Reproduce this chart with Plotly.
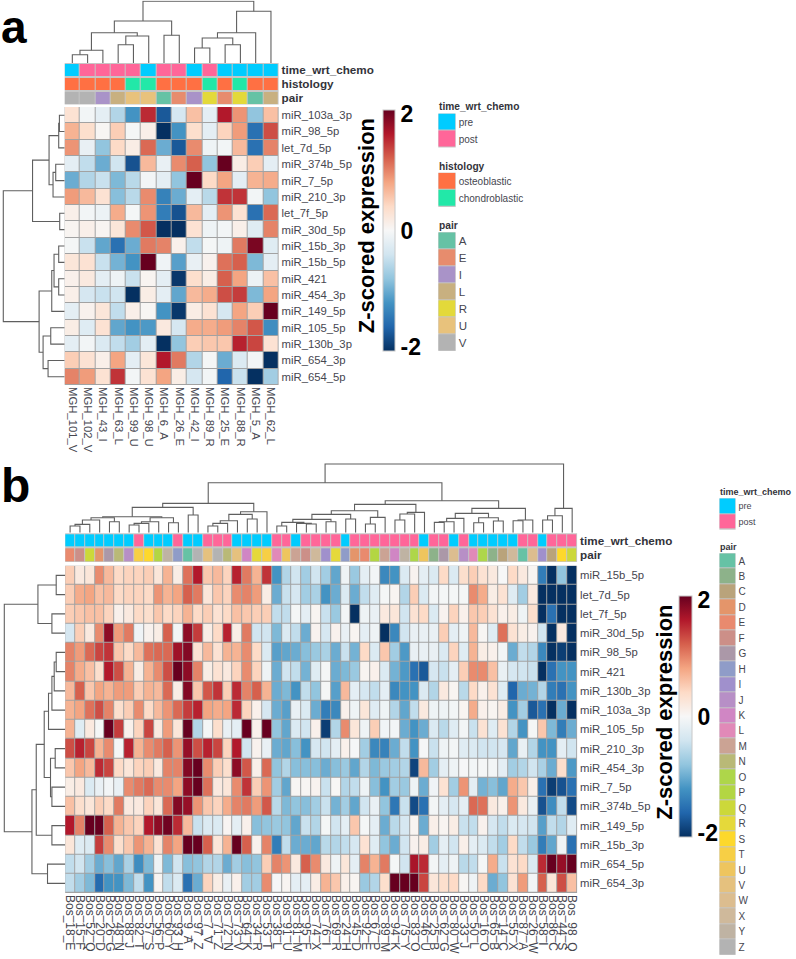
import plotly.graph_objects as go

# ---------- panel a data ----------
A_ROWS = ["miR_103a_3p","miR_98_5p","let_7d_5p","miR_374b_5p","miR_7_5p","miR_210_3p","let_7f_5p","miR_30d_5p",
          "miR_15b_3p","miR_15b_5p","miR_421","miR_454_3p","miR_149_5p","miR_105_5p","miR_130b_3p","miR_654_3p","miR_654_5p"]
A_COLS = ["MGH_101_V","MGH_102_V","MGH_43_I","MGH_63_L","MGH_99_U","MGH_98_U","MGH_6_A","MGH_26_E","MGH_42_I","MGH_89_R","MGH_25_E","MGH_88_R","MGH_5_A","MGH_62_L"]
A_Z = [
 [0.3,-0.05,-0.2,-0.6,-1.2,1.5,-1.7,-0.35,0.6,-0.2,1.6,0.9,-0.8,0.6],
 [0.7,0.35,0.03,0.5,-0.03,0.12,-2,-1.2,0.35,-0.2,0.45,0.85,-1.5,1.3],
 [0.9,-0.15,-0.8,0.4,0.15,1.15,-1.0,-1.7,0.95,-0.1,-0.05,0.65,-1.5,1.0],
 [-0.2,-0.5,-1.0,-0.4,-1.75,0.65,-0.15,0.95,1.2,-0.8,2.0,0.15,0.5,-0.2],
 [-1.0,-0.6,-0.45,-0.9,-0.55,-0.05,-0.2,-0.8,2,0.4,0.8,-0.2,0.7,0.75],
 [0.85,0.65,0.3,-0.85,-0.55,0.95,-1.35,-1.0,-0.2,-0.55,1.45,1.45,-0.05,-0.8],
 [0.12,-0.05,-0.12,0.75,-0.03,0.9,-1.4,-1.75,0.65,-0.2,0.9,0.3,-1.5,1.15],
 [0.05,0.12,0.05,0.25,0.95,1.25,-2,-2,0.3,-0.1,-0.05,0.12,-0.25,1.0],
 [-0.03,-0.45,-1.05,-1.5,-1.0,1.05,1.0,0.1,-0.5,-0.03,-0.1,1.05,1.9,-0.25],
 [0.25,0.3,-0.45,-0.95,-1.2,2,-0.08,-1.1,-0.15,0.08,1.1,1.2,-0.9,-0.2],
 [0.1,0.2,-0.2,-0.1,-0.45,0.05,-0.2,-1.95,0.35,0.15,1.2,0.8,-0.12,0.6],
 [0.12,-0.35,-0.45,-0.4,-2,0.15,-0.2,-1.05,0.65,0.75,1.3,1.4,-0.9,0.8],
 [-0.2,0.08,0.25,-0.5,0.12,0.03,-1.2,-1.95,0.15,0.3,-0.35,0.8,0.5,2],
 [0.15,-0.25,0.3,-1.05,-1.2,-1.15,0.2,-0.35,0.75,0.75,0.85,1.0,1.25,-1.25],
 [-0.2,-0.05,-0.3,-0.5,-0.7,-0.2,-2,-0.8,0.5,0.55,0.55,1.55,1.35,0.3],
 [0.5,0.3,0.12,0.8,-0.2,0.25,1.6,1.05,-0.6,-0.03,-1.0,-0.3,-0.05,-2],
 [1.0,0.85,0.3,1.45,-0.05,0.3,0.8,0.15,-0.35,-0.05,-1.6,-0.45,-2,-0.7],
]
A_TIME = ["pre","post","post","post","post","pre","post","post","pre","post","pre","pre","pre","pre"]
A_HIST = ["osteoblastic","osteoblastic","osteoblastic","osteoblastic","chondroblastic","chondroblastic","osteoblastic","osteoblastic","osteoblastic","chondroblastic","osteoblastic","chondroblastic","osteoblastic","osteoblastic"]
A_PAIR = ["V","V","I","L","U","U","A","E","I","R","E","R","A","L"]
A_PAIR_LEVELS = ["A","E","I","L","R","U","V"]
A_COL_TREE = (61.7,(42,(30.3,(12.7,(8.3,0,1),2),(27,(18.3,3,4),5)),(27.7,6,7)),(51.7,(30.3,(25,(15,8,9),(18.3,10,11)),12),13))
A_ROW_TREE = (61.7,(32.3,(15.7,(6,(5.3,0,1),2),(11.7,(9,3,4),5)),(5,6,7)),(25.7,(13,(10.7,(6,8,9),(6,10,11)),12),(21.7,(14,13,14),(16.7,15,16))))

# ---------- panel b data ----------
B_ROWS = ["miR_15b_5p","let_7d_5p","let_7f_5p","miR_30d_5p","miR_98_5p","miR_421","miR_130b_3p","miR_103a_3p","miR_105_5p",
          "miR_210_3p","miR_454_3p","miR_7_5p","miR_374b_5p","miR_149_5p","miR_15b_3p","miR_654_5p","miR_654_3p"]
B_COLS = ["Bos_18_E","Bos_15_F","Bos_52_Q","Bos_20_D","Bos_26_G","Bos_48_N","Bos_88_J","Bos_82_T","Bos_57_S","Bos_56_P","Bos_60_Y","Bos_93_H","Bos_9_A",
          "Bos_97_Z","Bos_7_V","Bos_71_Z","Bos_72_N","Bos_73_V","Bos_64_K","Bos_34_R","Bos_53_T","Bos_38_L","Bos_91_U","Bos_81_M","Bos_95_F","Bos_74_X",
          "Bos_76_I","Bos_69_R","Bos_24_H","Bos_45_D","Bos_92_E","Bos_67_P","Bos_89_M","Bos_94_K","Bos_75_Y","Bos_83_O","Bos_46_U","Bos_25_B","Bos_62_G",
          "Bos_80_W","Bos_33_J","Bos_50_L","Bos_16_O","Bos_65_B","Bos_14_C","Bos_55_X","Bos_87_A","Bos_26_W","Bos_58_I","Bos_86_C","Bos_44_S","Bos_98_Q"]
B_Z = [
 [0.5,0.2,0.25,0.95,0.65,0.4,0.45,0.45,0.5,0.25,0.7,0.15,1.1,1.6,0.55,0.65,0.45,1.55,1.05,0.7,1.45,-1.2,-0.6,-0.4,
  -0.7,-0.4,-0.7,-1.05,-0.1,-0.75,-0.2,-0.05,-1.3,-1.2,-0.3,0.07,-0.2,-0.3,0.4,-0.3,0.35,0.5,0.3,0.2,0.0,0.4,0.2,0.05,-1.4,-2,-0.8,-2],
 [0.5,0.75,0.8,0.6,0.65,0.4,0.45,0.45,0.4,0.9,0.7,0.8,1.2,1.05,0.25,0.55,0.45,0.95,1.0,0.85,0.15,-1.0,-0.45,-0.35,
  -0.7,-0.65,-1.2,-1.0,-0.3,-1.0,-0.5,-0.25,-0.03,0.05,-0.6,0.5,-0.3,-0.05,-0.03,-0.03,-0.03,0.95,0.75,0.15,0.3,-0.25,-0.7,0.2,-2,-2,-2,-2],
 [0.5,0.55,0.6,0.6,0.45,0.1,0.2,0.4,0.35,0.55,0.4,0.45,0.7,0.4,0.5,0.3,0.4,0.6,0.55,0.5,0.5,-0.5,-0.5,-0.03,
  -0.2,0.05,-0.45,-0.75,-0.05,-2,-0.1,-0.15,0.2,0.25,-0.4,0.3,0.4,-0.3,0.07,0.45,0.1,0.55,0.5,0.3,0.1,0.15,-0.1,0.35,-2,-1.5,-2,-2],
 [-0.35,0.5,0.2,0.95,1.8,0.85,1.05,-0.08,0.08,0.15,1.2,-0.05,1.8,1.4,0.15,0.4,1.55,0.15,1.05,-0.4,-0.4,-0.9,-0.3,-0.5,
  -1.0,0.07,-0.35,0.08,-0.15,0.05,-0.2,-0.1,-2,-1.3,-0.4,-0.15,-0.15,-0.15,0.5,-0.2,-0.1,0.65,0.03,-0.25,1.1,0.3,0.15,0.08,-0.4,-2,0.2,-2],
 [1.0,0.85,1.15,1.35,1.45,0.55,0.4,0.65,1.1,1.15,1.15,1.7,1.85,0.3,0.65,0.3,0.7,0.7,0.95,0.4,-0.3,-1.1,-1.05,-1.0,
  -0.85,-0.75,-0.65,-1.0,-0.45,-0.95,0.4,-0.3,0.55,-0.7,-1.15,-0.15,-0.15,-0.15,-0.3,0.45,-0.25,0.7,0.15,0.1,-0.05,-1.0,-0.5,-0.6,-1.3,-2,-1.9,-2],
 [1.0,0.75,0.6,0.35,1.6,1.3,0.7,0.15,0.7,0.95,1.3,2.0,1.8,1.0,0.15,0.3,0.2,0.45,0.95,0.45,-0.1,-1.0,-0.4,-0.5,
  -0.95,-0.25,-0.03,-1.0,-0.9,-0.75,0.05,0.1,-0.3,-0.95,-1.15,-1.5,-1.7,-0.35,-0.45,-0.2,0.5,0.95,0.95,0.6,-0.15,-0.35,-0.4,-0.45,-2,-1.5,-1.2,-1.2],
 [0.65,1.2,0.55,0.8,0.7,0.85,0.85,0.5,0.7,0.65,1.15,0.15,1.85,0.55,1.25,1.45,0.5,1.5,1.0,1.2,0.7,-1.0,-0.9,-1.2,
  -0.5,-0.8,-0.03,-1.1,0.65,-0.2,-0.35,-0.5,-0.2,-1.3,-1.2,-1.2,-0.3,-0.6,0.2,0.05,-0.55,0.4,0.1,0.3,-0.25,-1.6,-1.0,-0.95,-0.6,-1.4,-1.5,-1.2],
 [0.7,0.8,1.1,1.3,1.0,0.35,0.5,0.95,0.4,0.65,0.9,1.15,1.4,1.55,0.8,0.75,0.8,1.5,0.45,0.1,-0.35,-1.0,-1.1,-0.15,
  -0.3,-1.0,-1.4,-1.3,0.1,-0.1,0.25,-0.25,-0.1,-0.6,-1.05,-0.5,0.2,-0.1,-0.1,-0.05,0.05,0.75,0.1,0.05,0.15,-1.2,-0.7,-1.7,-1.5,-2,-1.0,-2],
 [0.7,-0.25,0.2,-0.03,2,1.4,0.1,0.45,1.35,0.2,0.85,0.25,2.0,-0.6,-0.03,0.35,-0.15,-0.2,2,0.1,2,-0.8,-1.05,-0.3,
  -0.4,0.1,-1.9,-0.6,0.95,0.25,-0.1,0.5,-0.07,-0.05,-1.0,-1.2,-1.0,-0.3,-0.55,-0.25,-0.05,-0.45,0.3,-0.25,0.3,-0.6,-1.2,-0.03,0.55,-0.9,-1.4,-1.0],
 [1.3,1.55,1.35,0.7,0.95,-0.03,1.55,0.7,0.95,1.05,1.2,0.9,1.75,1.3,1.55,1.35,0.45,1.6,-0.4,0.08,-0.15,-1.0,-1.05,-0.85,
  -1.2,-0.35,-0.4,-0.2,0.1,-0.02,-0.7,-1.3,-1.35,-1.0,-0.5,-1.2,-0.02,-0.45,-0.1,-0.05,-0.25,-0.3,-0.4,-0.4,-0.35,-1.05,-0.15,-0.6,-1.2,-1.2,-0.2,-0.4],
 [0.55,0.8,0.65,1.5,1.35,0.4,0.25,0.45,0.5,0.2,1.0,1.0,1.85,2,0.95,0.5,0.35,1.8,1.25,0.12,1.15,-0.8,-0.6,-0.85,
  -0.85,-0.85,-1.0,-0.85,-0.75,-1.05,-0.6,-0.9,-0.75,-0.7,-0.6,-1.85,0.65,-0.7,-0.2,-0.1,-0.02,-0.05,-0.03,-0.05,-0.2,-0.7,-0.6,-0.4,-0.65,-1.0,0.35,-1.15],
 [0.15,0.2,-0.3,-0.15,-0.05,-0.15,0.95,1.05,1.15,0.95,0.95,0.8,1.8,2,1.1,0.2,0.25,0.95,1.45,0.5,0.9,-0.7,-1.05,0.03,
  0.03,0.07,-0.45,0.02,-0.6,-0.5,-0.1,-0.85,-1.2,-0.7,-0.75,-0.1,-1.0,-0.08,0.3,-0.7,0.9,-0.2,-0.95,-0.85,-1.05,0.75,0.55,0.12,-1.5,-1.9,-1.75,-1.5],
 [0.6,0.35,0.25,0.5,0.4,1.05,0.2,0.2,0.45,0.25,1.15,1.85,1.75,0.9,0.55,0.45,0.75,1.0,1.05,0.85,1.25,-0.55,-0.9,-0.8,
  -0.85,-0.7,-0.45,-0.95,-0.7,-1.05,-0.4,-0.15,-0.8,-1.45,-0.45,-1.8,-1.5,-0.05,-0.2,-0.35,-0.2,1.15,1.1,0.2,0.1,0.9,0.2,-0.15,-1.75,-1.25,-0.5,-1.8],
 [1.6,1.0,2,2,1.2,0.7,0.55,0.45,1.6,1.8,1.95,1.5,0.65,-0.45,-0.3,-0.3,0.04,-0.2,0.1,-0.85,-0.8,-0.75,-0.8,-1.05,
  -0.45,-0.6,-0.03,-0.4,-0.2,0.55,-0.03,-0.2,-1.0,-0.55,-0.35,0.05,-1.0,0.12,0.05,0.15,-0.45,-0.5,0.08,-0.35,-0.5,-0.3,-0.35,-0.4,-1.1,-0.5,-0.6,-0.25],
 [0.25,-0.25,-0.3,1.4,0.95,0.35,0.55,0.9,0.7,0.3,1.0,0.8,2,2,1.2,0.25,0.7,2,1.2,0.08,1.0,-1.4,-0.5,-1.0,
  -1.0,-1.05,-0.55,-0.6,-0.5,-0.35,0.3,-0.25,-0.8,-1.0,-0.4,0.08,0.15,-0.7,-0.2,-0.4,0.12,-0.2,-0.3,-0.5,-0.7,0.4,-0.5,-0.75,-1.4,-1.05,-0.1,-1.5],
 [-0.5,-0.4,-0.7,-1.0,-0.85,-1.05,-0.65,-1.25,-0.9,-0.1,-0.9,-0.4,-0.85,-0.8,-0.6,-0.6,-1.0,-0.7,-0.85,-0.8,0.5,1.0,0.9,0.2,
  1.2,0.95,0.2,-0.1,0.25,-0.2,1.0,0.7,1.05,-0.03,-0.4,1.65,1.5,-0.05,-0.2,-0.1,-0.55,-0.5,-0.03,0.75,-0.45,0.3,0.4,-0.3,1.5,2,1.75,2],
 [-0.5,-0.7,-0.9,-1.55,-1.2,-1.2,-0.9,-0.5,-1.2,0.05,-0.5,-0.3,-1.5,-1.0,0.45,0.15,-0.15,0.1,-0.7,-0.7,0.95,-0.02,0.05,-0.2,
  -0.2,0.15,0.7,0.55,0.12,0.05,-0.75,-0.6,0.35,2,2,2,1.35,0.25,0.35,0.4,0.03,-0.1,0.4,-1.0,-0.8,0.3,0.85,-0.05,1.2,0.25,1.3,0.6],
]
B_TIME_PRE = [1,2,3,4,5,6,7,9,10,11,13,14,18,19,20,21,24,29,37,40,42,43,44,45,46,49]
B_PAIR = ["E","F","Q","D","G","N","J","T","S","P","Y","H","A","Z","V","Z","N","V","K","R","T","L","U","M","F","X",
          "I","R","H","D","E","P","M","K","Y","O","U","B","G","W","J","L","O","B","C","X","A","W","I","C","S","Q"]
B_PAIR_LEVELS = list("ABCDEFGHIJKLMNOPQRSTUVWXYZ")
B_COL_TREE = (68.7,
  (50,
   (29.3,
    (25.3,(16,(15,(12.7,(8.3,(6.7,1,2),3),4),(11,5,6)),(15,(11,(9.3,(7.7,7,8),9),10),(10,11,12))),(17.7,13,14)),
    (21,(18.3,(12,(9.3,(6.7,15,16),17),18),(13.7,19,20)),21)),
   (32,
    (28.3,
     (22,(18.3,(13.3,(10.3,(6.7,22,23),(9.3,24,(8.7,25,26))),(11,27,28)),(13.7,29,30)),(15.3,(8.7,31,32),33)),
     (20.3,(18.7,(12.7,34,35),36),37)),
    (24.3,
     (19.3,(14.3,(11,(10.3,38,39),40),41),(15,(10,42,43),(11.7,44,45))),
     (12.7,(12,46,47),48)))),
  (24.3,(17,(12.7,49,50),51),52))
B_ROW_TREE = (61,
  (27.3,(9,0,1),(13.3,2,3)),
  (33.3,
   (29,(21,(16.7,(13.3,(11,(9,4,5),6),7),8),(14.7,(10,9,10),(13.3,11,12))),(13.3,13,14)),
   (17.7,15,16)))

TIME_COLORS = {"pre":"#00ccff","post":"#ff6699"}
HIST_COLORS = {"osteoblastic":"#ff7043","chondroblastic":"#22e8a8"}
PAIR_COLORS_A = {"A":"#66c2a5","E":"#e78c6d","I":"#a993c8","L":"#c8b080","R":"#e3d93a","U":"#e8c27c","V":"#b3b3b3"}
PAIR_COLORS_B = dict(zip(B_PAIR_LEVELS,["#66c2a5","#8db28a","#b9a37b","#e4956a","#e98a6e","#cc8f88","#ab98a8","#8f9cc8","#a090cc","#b78fc6","#d086c4","#e189b8","#cba394",
   "#b9b977","#aed64a","#b3d643","#ccd83a","#e5d93a","#fdd82c","#f7cf45","#eec55e","#e5c17e","#dcbd8f","#cfb99b","#bfb3a3","#b3b3b3"]))
RDBU = ["#053061","#2166ac","#4393c3","#92c5de","#d1e5f0","#f7f7f7","#fddbc7","#f4a582","#d6604d","#b2182b","#67001f"]
COLORSCALE = [[i/10,c] for i,c in enumerate(RDBU)]

W, H = 796, 959
TXT = "#46464f"
fig = go.Figure()
layout = {"annotations": []}
shapes = []
n_ax = [0]

def axes(x0, x1, y0, y1, xopts=None, yopts=None, bg=None):
    n_ax[0] += 1
    s = "" if n_ax[0] == 1 else str(n_ax[0])
    base = dict(showgrid=False, zeroline=False, showline=False, ticks="")
    xa = dict(base, domain=[x0/W, x1/W], anchor="y"+s, showticklabels=False)
    ya = dict(base, domain=[1-y1/H, 1-y0/H], anchor="x"+s, showticklabels=False)
    xa.update(xopts or {}); ya.update(yopts or {})
    layout["xaxis"+s] = xa; layout["yaxis"+s] = ya
    if bg:
        shapes.append(dict(type="rect", xref=f"x{s} domain", yref=f"y{s} domain", x0=0, x1=1, y0=0, y1=1,
                           fillcolor=bg, line=dict(width=0), layer="below"))
    return "x"+s, "y"+s

def tree_segments(node, offset=0):
    xs, hs = [], []
    def walk(n):
        if isinstance(n, int):
            return n - offset, 0.0
        h, left, right = n
        lp, lh = walk(left); rp, rh = walk(right)
        xs.extend([lp, lp, rp, rp, None]); hs.extend([lh, h, h, rh, None])
        return (lp + rp)/2, h
    walk(node)
    return xs, hs

LINE = dict(color="#5f5f5f", width=1.1)

def col_dendro(tree, n, x0, x1, y0, y1, hmax, offset=0):
    xr, yr = axes(x0, x1, y0, y1, dict(range=[-0.5, n-0.5]), dict(range=[0, hmax]))
    xs, hs = tree_segments(tree, offset)
    fig.add_trace(go.Scatter(x=xs, y=hs, mode="lines", line=LINE, xaxis=xr, yaxis=yr, showlegend=False, hoverinfo="skip"))

def row_dendro(tree, n, x0, x1, y0, y1, hmax):
    xr, yr = axes(x0, x1, y0, y1, dict(range=[hmax, 0]), dict(range=[n-0.5, -0.5]))
    ps, hs = tree_segments(tree)
    fig.add_trace(go.Scatter(x=hs, y=ps, mode="lines", line=LINE, xaxis=xr, yaxis=yr, showlegend=False, hoverinfo="skip"))

def main_heat(z, cols, rows, x0, x1, y0, y1, xfs, yfs, cb):
    xr, yr = axes(x0, x1, y0, y1,
        dict(showticklabels=True, tickangle=90, tickfont=dict(size=xfs, color=TXT), type="category", dtick=1, ticklabelstandoff=1),
        dict(showticklabels=True, side="right", autorange="reversed", tickfont=dict(size=yfs, color=TXT), type="category", dtick=1, ticklabelstandoff=2),
        bg="#a2a2a2")
    fig.add_trace(go.Heatmap(z=z, x=cols, y=rows, xaxis=xr, yaxis=yr, colorscale=COLORSCALE, zmin=-2, zmax=2,
        xgap=1, ygap=1, hoverinfo="skip",
        colorbar=dict(x=cb[0]/W, xanchor="left", y=1-cb[2]/H, yanchor="top", len=(cb[3]-cb[2])/H, lenmode="fraction",
                      thickness=cb[1]-cb[0], thicknessmode="pixels", xpad=0, ypad=0, outlinecolor="#c8c8c8", outlinewidth=1,
                      tickmode="array", tickvals=[-1.93,0,1.93], ticktext=["-2","0","2"], ticklen=0,
                      tickfont=dict(size=23, color="#000000", family="Liberation Sans", weight="bold"))))

def cat_heat(rows, colors, cols, labels, x0, x1, y0, y1, fs, bold, ygap, xgap):
    names = list(colors)
    idx = {k:i for i,k in enumerate(names)}
    scale = [[i/(len(names)-1), colors[k]] for i,k in enumerate(names)]
    z = [[idx[v] for v in r] for r in rows]
    xr, yr = axes(x0, x1, y0, y1, dict(type="category"),
        dict(showticklabels=True, side="right", autorange="reversed", type="category", dtick=1, ticklabelstandoff=2,
             tickfont=dict(size=fs, color="#33333a" if bold else TXT, weight="bold" if bold else "normal")),
        bg="#c6c6c6")
    fig.add_trace(go.Heatmap(z=z, x=cols, y=labels, xaxis=xr, yaxis=yr, colorscale=scale, zmin=0, zmax=len(names)-1,
        showscale=False, xgap=xgap, ygap=ygap, hoverinfo="skip"))

def legend(title, levels, colors, x0, x1, y0, y1, title_y, fs, tfs):
    colmap = {k:colors[k] for k in levels}
    cat_heat([[k] for k in levels], colmap, ["c"], levels, x0, x1, y0, y1, fs, False, 1, 0)
    layout["annotations"].append(dict(text=title, x=x0/W, y=1-title_y/H, xref="paper", yref="paper", borderpad=0,
        xanchor="left", yanchor="middle", showarrow=False, font=dict(size=tfs, color="#33333a", weight="bold")))

def big_title(x, y):
    layout["annotations"].append(dict(text="Z-scored expression", x=x/W, y=1-y/H, xref="paper", yref="paper",
        xanchor="center", yanchor="middle", textangle=-90, showarrow=False, font=dict(size=22, color="#000000", weight="bold")))

def letter(t, x, y, size):
    layout["annotations"].append(dict(text=t, x=x/W, y=1-y/H, xref="paper", yref="paper", xanchor="left", yanchor="middle",
        borderpad=0, showarrow=False, font=dict(size=size, color="#000000", weight="bold")))

# ---------- panel a ----------
col_dendro(A_COL_TREE, len(A_COLS), 63, 278, 0.5, 63, 62.5)
row_dendro(A_ROW_TREE, len(A_ROWS), 0, 63, 107, 385, 63)
cat_heat([A_TIME, A_HIST, A_PAIR], {**TIME_COLORS, **HIST_COLORS, **PAIR_COLORS_A}, A_COLS,
         ["time_wrt_chemo","histology","pair"], 63, 278, 63, 104.5, 11.7, True, 2, 1)
main_heat(A_Z, A_COLS, A_ROWS, 63, 278, 107, 385, 11.3, 11.3, (383, 395, 110, 351))
big_title(367, 226)
legend("time_wrt_chemo", ["pre","post"], TIME_COLORS, 438.5, 456, 113.5, 147.5, 106.5, 10, 10.2)
legend("histology", ["osteoblastic","chondroblastic"], HIST_COLORS, 438.5, 456, 172.7, 207, 166, 10, 10.2)
legend("pair", A_PAIR_LEVELS, PAIR_COLORS_A, 438.5, 456, 232.3, 351, 226, 11.5, 10.2)
letter("a", -2, 27, 46)

# ---------- panel b ----------
B_TIME = ["pre" if (i+1) in B_TIME_PRE else "post" for i in range(len(B_COLS))]
col_dendro(B_COL_TREE, len(B_COLS), 63.5, 578, 463, 532.7, 69.7, offset=1)
row_dendro(B_ROW_TREE, len(B_ROWS), 0, 63.5, 565.7, 893, 63.3)
cat_heat([B_TIME, B_PAIR], {**TIME_COLORS, **PAIR_COLORS_B}, B_COLS, ["time_wrt_chemo","pair"], 63.5, 578, 533.3, 562, 11.7, True, 2, 1)
main_heat(B_Z, B_COLS, B_ROWS, 63.5, 578, 565.7, 893, 12, 11.3, (680, 692.7, 596, 836.7))
big_title(665, 712)
legend("time_wrt_chemo", ["pre","post"], TIME_COLORS, 721, 737.3, 498.3, 529.7, 492, 9, 9)
legend("pair", B_PAIR_LEVELS, PAIR_COLORS_B, 721, 737.3, 553.3, 955, 546.7, 10, 9)
letter("b", -2, 485, 48)

fig.update_layout(**layout)
fig.update_layout(width=W, height=H, margin=dict(l=0, r=0, t=0, b=0), plot_bgcolor="rgba(0,0,0,0)", paper_bgcolor="#ffffff",
                  font=dict(family="Liberation Sans"), shapes=shapes, showlegend=False)
fig.write_html("out.html", config={"displayModeBar": False}, post_script="document.body.style.margin='0';")
